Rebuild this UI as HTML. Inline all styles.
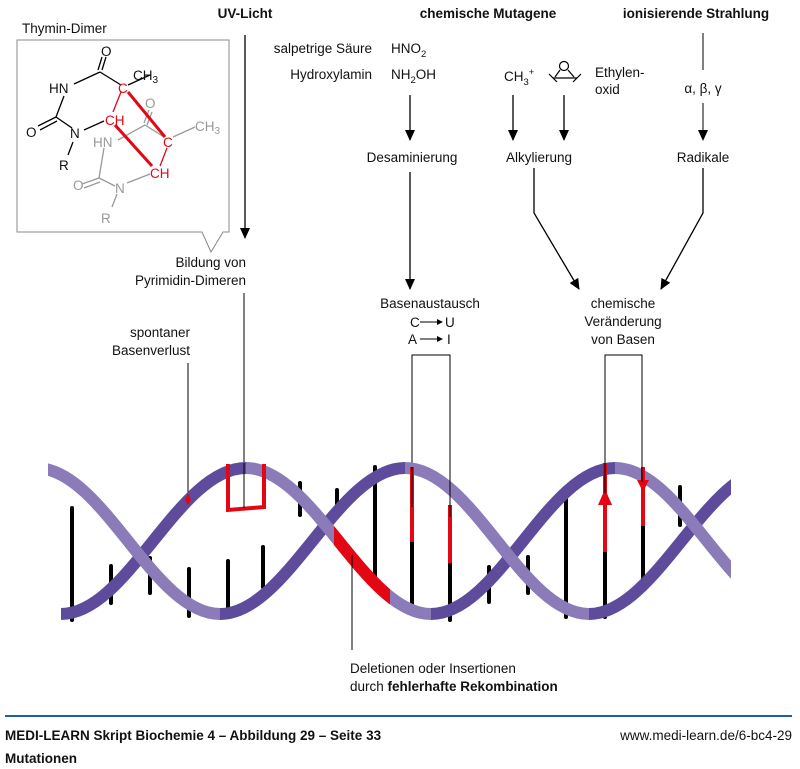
<!DOCTYPE html>
<html><head><meta charset="utf-8"><style>
html,body{margin:0;padding:0;background:#fff;width:800px;height:769px;overflow:hidden}
svg{display:block}
text{font-family:"Liberation Sans Narrow","Liberation Sans",sans-serif;font-size:13.5px;fill:#111}
.b{font-weight:bold}
.g{fill:#999}
.r{fill:#e30613}
</style></head><body>
<svg width="800" height="769" viewBox="0 0 800 769" xmlns="http://www.w3.org/2000/svg">
<defs>
<clipPath id="cl"><rect x="48" y="440" width="683" height="200"/></clipPath>
<clipPath id="cr"><rect x="334" y="440" width="56" height="200"/></clipPath>
<marker id="ah" markerWidth="12" markerHeight="12" refX="10" refY="5" orient="auto" markerUnits="userSpaceOnUse"><path d="M0,0 L11,5 L0,10 Z" fill="#000"/></marker>
</defs>

<!-- Thymin dimer box -->
<text x="22" y="33">Thymin-Dimer</text>
<path d="M17,40 L229,40 L229,232 L223,232 L211,252 L202,232 L17,232 Z" fill="none" stroke="#888" stroke-width="1"/>
<g stroke="#000" stroke-width="1.3" fill="none">
<line x1="100" y1="72" x2="121" y2="85"/>
<line x1="100" y1="72" x2="74" y2="84"/>
<line x1="102" y1="70" x2="106" y2="57"/>
<line x1="98" y1="70" x2="102" y2="57"/>
<line x1="128" y1="85" x2="150" y2="75"/>
<line x1="64" y1="96" x2="56" y2="117"/>
<line x1="56" y1="117" x2="38" y2="126"/>
<line x1="57" y1="121" x2="40" y2="130"/>
<line x1="56" y1="117" x2="72" y2="128"/>
<line x1="84" y1="130" x2="104" y2="121"/>
<line x1="73" y1="142" x2="68" y2="155"/>
</g>
<g stroke="#999" stroke-width="1.3" fill="none">
<line x1="145" y1="125" x2="164" y2="137"/>
<line x1="144" y1="123" x2="149" y2="110"/>
<line x1="147" y1="125" x2="152" y2="112"/>
<line x1="145" y1="125" x2="118" y2="140"/>
<line x1="173" y1="137" x2="195" y2="127"/>
<line x1="104" y1="148" x2="99" y2="178"/>
<line x1="99" y1="178" x2="82" y2="184"/>
<line x1="100" y1="182" x2="84" y2="188"/>
<line x1="99" y1="178" x2="115" y2="186"/>
<line x1="127" y1="183" x2="150" y2="174"/>
<line x1="117" y1="194" x2="112" y2="207"/>
</g>
<g stroke="#e30613" fill="none">
<line x1="121" y1="92" x2="113" y2="112" stroke-width="1.3"/>
<line x1="128" y1="92" x2="165" y2="137" stroke-width="3"/>
<line x1="115" y1="125" x2="152" y2="166" stroke-width="3"/>
<line x1="167" y1="148" x2="160" y2="166" stroke-width="1.3"/>
</g>
<text x="101" y="56" font-size="15">O</text>
<text x="133" y="80" font-size="14">CH<tspan font-size="10" dy="3">3</tspan></text>
<text x="49" y="93" font-size="14">HN</text>
<text x="118" y="93" font-size="14" class="r">C</text>
<text x="26" y="137" font-size="15">O</text>
<text x="70" y="138" font-size="14">N</text>
<text x="105" y="125" font-size="14" class="r">CH</text>
<text x="59" y="170" font-size="14">R</text>
<text x="145" y="108" font-size="15" class="g">O</text>
<text x="195" y="131" font-size="14" class="g">CH<tspan font-size="10" dy="3">3</tspan></text>
<text x="93" y="147" font-size="14" class="g">HN</text>
<text x="163" y="147" font-size="14" class="r">C</text>
<text x="73" y="190" font-size="15" class="g">O</text>
<text x="115" y="193" font-size="14" class="g">N</text>
<text x="150" y="178" font-size="14" class="r">CH</text>
<text x="101" y="223" font-size="14" class="g">R</text>

<!-- headers -->
<text x="245" y="18" text-anchor="middle" class="b">UV-Licht</text>
<text x="488" y="18" text-anchor="middle" class="b">chemische Mutagene</text>
<text x="696" y="18" text-anchor="middle" class="b">ionisierende Strahlung</text>

<!-- arrows -->
<g stroke="#000" stroke-width="1.3" fill="none">
<line x1="245" y1="35" x2="245" y2="238" marker-end="url(#ah)"/>
<line x1="410" y1="95" x2="410" y2="140" marker-end="url(#ah)"/>
<line x1="513" y1="95" x2="513" y2="140" marker-end="url(#ah)"/>
<line x1="564" y1="95" x2="564" y2="140" marker-end="url(#ah)"/>
<line x1="703" y1="33" x2="703" y2="70" stroke-width="1"/>
<line x1="703" y1="103" x2="703" y2="140" stroke-width="1" marker-end="url(#ah)"/>
<line x1="410" y1="172" x2="410" y2="289" marker-end="url(#ah)"/>
<polyline points="534,168 534,213 579,289" marker-end="url(#ah)"/>
<polyline points="703,168 703,213 661,289" marker-end="url(#ah)"/>
</g>

<text x="372" y="53" text-anchor="end">salpetrige Säure</text>
<text x="391" y="53" font-family="Liberation Sans" font-size="13.5">HNO<tspan font-size="9.5" dy="4">2</tspan></text>
<text x="372" y="79" text-anchor="end">Hydroxylamin</text>
<text x="391" y="79" font-family="Liberation Sans" font-size="13.5">NH<tspan font-size="9.5" dy="4">2</tspan><tspan dy="-4">OH</tspan></text>
<text x="504" y="81" font-family="Liberation Sans" font-size="13.5">CH<tspan font-size="9.5" dy="4">3</tspan><tspan font-size="9.5" dy="-10">+</tspan></text>
<g stroke="#000" stroke-width="1.2" fill="none">
<circle cx="564" cy="66" r="4.5"/>
<line x1="553" y1="78" x2="577" y2="78"/>
<line x1="560" y1="70" x2="555" y2="77"/>
<line x1="568" y1="70" x2="574" y2="77"/>
<line x1="549" y1="74" x2="557" y2="82"/>
<line x1="573" y1="82" x2="581" y2="74"/>
</g>
<text x="595" y="77">Ethylen-</text>
<text x="595" y="94">oxid</text>
<text x="703" y="93" text-anchor="middle" font-family="Liberation Sans" font-size="13.5">α, β, γ</text>
<text x="412" y="162" text-anchor="middle">Desaminierung</text>
<text x="539" y="162" text-anchor="middle">Alkylierung</text>
<text x="703" y="162" text-anchor="middle">Radikale</text>

<text x="246" y="267" text-anchor="end">Bildung von</text>
<text x="246" y="285" text-anchor="end">Pyrimidin-Dimeren</text>
<text x="190" y="337" text-anchor="end">spontaner</text>
<text x="190" y="355" text-anchor="end">Basenverlust</text>
<text x="430" y="308" text-anchor="middle">Basenaustausch</text>
<text x="410" y="327">C</text><text x="445" y="327">U</text>
<text x="408" y="344">A</text><text x="447" y="344">I</text>
<g stroke="#000" stroke-width="1"><line x1="420" y1="322" x2="437" y2="322"/><line x1="420" y1="339" x2="437" y2="339"/></g>
<path d="M437,319 L443,322 L437,325Z M437,336 L443,339 L437,342Z"/>
<text x="623" y="308" text-anchor="middle">chemische</text>
<text x="623" y="326" text-anchor="middle">Veränderung</text>
<text x="623" y="344" text-anchor="middle">von Basen</text>

<!-- label lines -->
<g stroke="#000" stroke-width="1" fill="none">
<line x1="244" y1="293" x2="244" y2="508"/>
<line x1="188" y1="363" x2="188" y2="500"/>
<polyline points="412,507 412,355 450,355 450,517"/>
<polyline points="605,493 605,355 642,355 642,482"/>
</g>

<!-- rungs -->
<g stroke="#000" stroke-width="4" stroke-linecap="round">
<line x1="72" y1="508" x2="72" y2="620"/>
<line x1="111" y1="566" x2="111" y2="603"/>
<line x1="150" y1="558" x2="150" y2="593"/>
<line x1="189" y1="569" x2="189" y2="616"/>
<line x1="228" y1="561" x2="228" y2="616"/>
<line x1="263" y1="547" x2="263" y2="587"/>
<line x1="300" y1="483" x2="300" y2="515"/>
<line x1="337" y1="490" x2="337" y2="513"/>
<line x1="375" y1="467" x2="375" y2="583"/>
<line x1="412" y1="542" x2="412" y2="608"/>
<line x1="450" y1="563" x2="450" y2="620"/>
<line x1="489" y1="567" x2="489" y2="602"/>
<line x1="528" y1="557" x2="528" y2="593"/>
<line x1="566" y1="498" x2="566" y2="617"/>
<line x1="605" y1="552" x2="605" y2="617"/>
<line x1="643" y1="526" x2="643" y2="582"/>
<line x1="680" y1="487" x2="680" y2="525"/>
</g>

<!-- strands: rising = dark, descending = light -->
<g clip-path="url(#cl)" fill="none" stroke-width="12">
<path d="M61,614 C128,614 178,468 246,468 M220,614 C287,614 338,468 405,468 M431,614 C498,614 548,468 615,468 M589,614 C656,614 707,468 774,468" stroke="#5f4b9b"/>
<path d="M36,468 C103,468 153,614 220,614 M246,468 C313,468 364,614 431,614 M405,468 C472,468 522,614 589,614 M615,468 C682,468 732,614 800,614" stroke="#8b7bb8"/>
</g>
<path clip-path="url(#cr)" d="M246,468 C313,468 364,614 431,614" fill="none" stroke="#e30613" stroke-width="12"/>
<line x1="352" y1="555" x2="352" y2="650" stroke="#000" stroke-width="1"/>

<!-- red elements -->
<g stroke="#e30613" stroke-width="4">
<line x1="412" y1="467" x2="412" y2="542"/>
<line x1="450" y1="505" x2="450" y2="563"/>
<line x1="605" y1="463" x2="605" y2="552"/>
<line x1="643" y1="467" x2="643" y2="526"/>
</g>
<path d="M605,489 L612,505 L598,505Z M643,492 L637,480 L649,480Z" fill="#e30613"/>
<polyline points="228,464 228,510 264,507 264,464" fill="none" stroke="#e30613" stroke-width="4"/>
<path d="M188,493 L191,500 L188,505 L185,500Z" fill="#e30613"/>
<g stroke="#000" stroke-width="1">
<line x1="412" y1="467" x2="412" y2="507"/>
<line x1="450" y1="467" x2="450" y2="517"/>
<line x1="605" y1="463" x2="605" y2="493"/>
<line x1="642" y1="463" x2="642" y2="482"/>
<line x1="244" y1="463" x2="244" y2="508"/>
</g>

<text x="350" y="673">Deletionen oder Insertionen</text>
<text x="350" y="691">durch <tspan class="b">fehlerhafte Rekombination</tspan></text>

<line x1="5" y1="716" x2="792" y2="716" stroke="#1f5fa8" stroke-width="2"/>
<text x="5" y="740" class="b">MEDI-LEARN Skript Biochemie 4 – Abbildung 29 – Seite 33</text>
<text x="792" y="740" text-anchor="end" font-size="12">www.medi-learn.de/6-bc4-29</text>
<text x="5" y="763" class="b">Mutationen</text>
</svg>
</body></html>
